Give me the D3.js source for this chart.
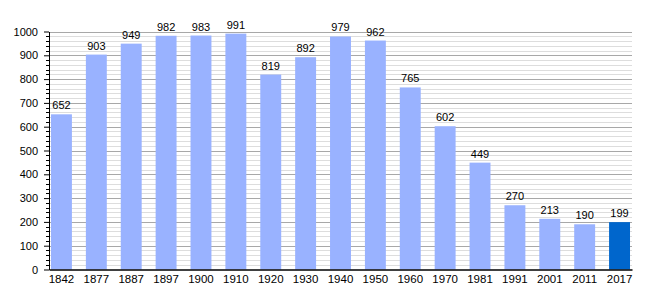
<!DOCTYPE html>
<html><head><meta charset="utf-8">
<script src="https://cdn.jsdelivr.net/npm/d3@7"></script>
<style>body{margin:0;background:#fff}svg{display:block}text{font-family:"Liberation Sans",Arial,sans-serif;fill:#000}</style>
</head><body><svg id="c" width="660" height="300"></svg>
<script>
const years = ["1842","1877","1887","1897","1900","1910","1920","1930","1940","1950","1960","1970","1981","1991","2001","2011","2017"];
const population = [652,903,949,982,983,991,819,892,979,962,765,602,449,270,213,190,199];
const yTicks = [0,100,200,300,400,500,600,700,800,900,1000];

(function(){
const svg = d3.select("#c");
const mLeft = 49, mRight = 632, mTop = 31.5, mBottom = 269.5;
const x = d3.scaleBand().domain(years).range([mLeft, mRight]).paddingInner(0.4).paddingOuter(0.057);
const y = d3.scaleLinear().domain([0,1000]).range([mBottom, mTop]);
const py = d => Math.round(y(d))+0.5;
const ff = '"Liberation Sans",Arial,sans-serif';

const minor = d3.range(20, 1001, 20).filter(v => v % 100 !== 0);
svg.append("g").selectAll("line").data(minor).join("line")
  .attr("x1", mLeft).attr("x2", mRight).attr("y1", py).attr("y2", py)
  .attr("stroke", "#dddddd").attr("stroke-width", 1);
svg.append("g").selectAll("line").data(yTicks.slice(1)).join("line")
  .attr("x1", mLeft).attr("x2", mRight).attr("y1", py).attr("y2", py)
  .attr("stroke", "#a8a8a8").attr("stroke-width", 1);

svg.append("g").selectAll("rect").data(years).join("rect")
  .attr("x", d => x(d)).attr("width", x.bandwidth())
  .attr("y", (d,i) => y(population[i])).attr("height", (d,i) => mBottom - y(population[i]))
  .attr("fill", (d,i) => i === years.length-1 ? "#0066cc" : "#99b2ff");

svg.append("g").selectAll("text").data(years).join("text")
  .attr("x", d => x(d) + x.bandwidth()/2).attr("y", (d,i) => y(population[i]) - 5)
  .attr("text-anchor", "middle").attr("font-size", 11).style("font-family", ff).text((d,i) => population[i]);

const yAxis = d3.axisLeft(y).tickValues(yTicks).tickFormat(d3.format("d")).tickSize(5).tickSizeOuter(0).tickPadding(6);
const gy = svg.append("g").attr("transform", `translate(${mLeft},0)`).call(yAxis);
gy.selectAll("text").attr("font-size", 11).style("font-family", ff);
gy.select(".domain").attr("stroke", "#000");
svg.append("g").selectAll("line").data(minor).join("line")
  .attr("x1", mLeft-3).attr("x2", mLeft).attr("y1", py).attr("y2", py)
  .attr("stroke", "#000");

const xAxis = d3.axisBottom(x).tickSize(0).tickSizeOuter(0).tickPadding(5);
const gx = svg.append("g").attr("transform", `translate(0,${mBottom})`).call(xAxis);
gx.selectAll("text").attr("font-size", 11.5).style("font-family", ff);
gx.select(".domain").attr("stroke", "#000").attr("stroke-width", 1.5);
})();
</script></body></html>
